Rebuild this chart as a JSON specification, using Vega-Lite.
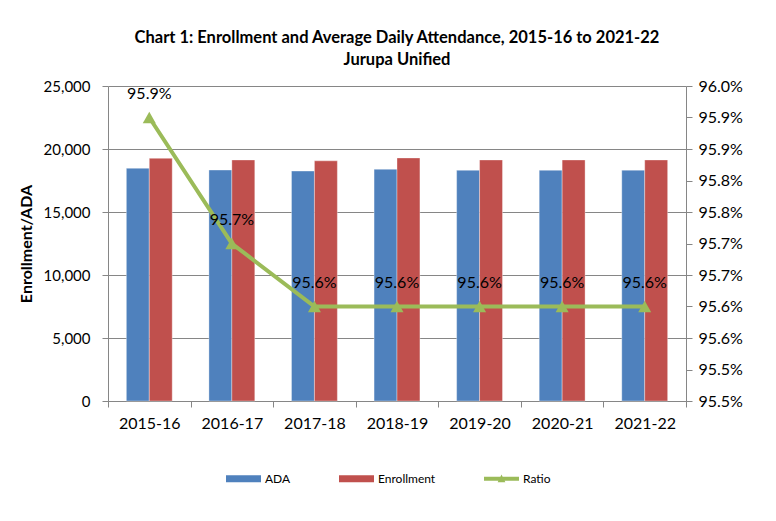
{
  "$schema": "https://vega.github.io/schema/vega-lite/v6.json",
  "width": 578,
  "height": 315,
  "autosize": {"type": "none"},
  "padding": {"left": 108, "top": 86, "right": 90, "bottom": 120},
  "background": "white",
  "title": {
    "text": "Chart 1: Enrollment and Average Daily Attendance, 2015-16 to 2021-22",
    "subtitle": "Jurupa Unified",
    "font": "Lato", "fontSize": 16.5, "fontWeight": "bold", "color": "#000000",
    "subtitleFont": "Lato", "subtitleFontSize": 16.5, "subtitleFontWeight": "bold", "subtitleColor": "#000000",
    "anchor": "middle", "offset": 10, "subtitlePadding": 5
  },
  "data": {
    "values": [
      {"Year": "2015-16", "ADA": 18470, "Enrollment": 19260, "Ratio": 95.95},
      {"Year": "2016-17", "ADA": 18330, "Enrollment": 19130, "Ratio": 95.75},
      {"Year": "2017-18", "ADA": 18250, "Enrollment": 19060, "Ratio": 95.65},
      {"Year": "2018-19", "ADA": 18390, "Enrollment": 19290, "Ratio": 95.65},
      {"Year": "2019-20", "ADA": 18310, "Enrollment": 19130, "Ratio": 95.65},
      {"Year": "2020-21", "ADA": 18310, "Enrollment": 19130, "Ratio": 95.65},
      {"Year": "2021-22", "ADA": 18320, "Enrollment": 19130, "Ratio": 95.65}
    ]
  },
  "encoding": {
    "x": {
      "field": "Year", "type": "ordinal", "sort": null,
      "scale": {"paddingInner": 0, "paddingOuter": 0},
      "axis": {
        "title": null, "labelAngle": 0, "labelFont": "Lato", "labelFontSize": 16, "labelColor": "#000000",
        "labelPadding": 8, "tickBand": "extent", "tickSize": 6, "tickColor": "#868686",
        "domainColor": "#868686", "domainWidth": 1, "grid": false
      }
    }
  },
  "layer": [
    {
      "transform": [{"fold": ["ADA", "Enrollment"], "as": ["Series", "Value"]}],
      "encoding": {
        "xOffset": {"field": "Series", "type": "nominal", "scale": {"paddingInner": 0, "paddingOuter": 0.8}},
        "y": {
          "field": "Value", "type": "quantitative",
          "scale": {"domain": [0, 25000], "nice": false},
          "axis": {
            "title": "Enrollment/ADA", "titleFont": "Lato", "titleFontSize": 16, "titleFontWeight": "bold",
            "titleColor": "#000000", "titlePadding": 9,
            "values": [0, 5000, 10000, 15000, 20000, 25000], "format": ",.0f",
            "labelFont": "Lato", "labelFontSize": 15, "labelColor": "#000000", "labelPadding": 12,
            "tickSize": 6, "tickColor": "#868686", "domainColor": "#868686",
            "grid": true, "gridColor": "#868686", "gridWidth": 1
          }
        },
        "color": {
          "field": "Series", "type": "nominal",
          "scale": {"domain": ["ADA", "Enrollment", "Ratio"], "range": ["#4F81BD", "#C0504D", "#9BBB59"]},
          "legend": {
            "title": null, "orient": "none", "direction": "horizontal",
            "legendX": 118, "legendY": 375,
            "labelFont": "Lato", "labelFontSize": 12, "labelColor": "#000000",
            "symbolSize": 1225, "columnPadding": 48, "labelOffset": 4,
            "symbolStrokeWidth": 0, "symbolOpacity": 1
          }
        }
      },
      "layer": [
        {"mark": {"type": "bar", "stroke": "#ffffff", "strokeOpacity": 0.35, "strokeWidth": 1}},
        {
          "mark": {"type": "point", "filled": true, "opacity": 0},
          "encoding": {
            "shape": {
              "field": "Series", "type": "nominal",
              "scale": {
                "domain": ["ADA", "Enrollment", "Ratio"],
                "range": ["M-1,-0.2H1V0.2H-1Z", "M-1,-0.2H1V0.2H-1Z", "M-1,-0.11H1V0.11H-1Z M-0.22,0.2L0,-0.24L0.22,0.2Z"]
              },
              "legend": {
                "title": null, "orient": "none", "direction": "horizontal",
                "legendX": 118, "legendY": 375,
                "labelFont": "Lato", "labelFontSize": 12, "labelColor": "#000000",
                "symbolSize": 1225, "columnPadding": 48, "labelOffset": 4,
                "symbolStrokeWidth": 0, "symbolOpacity": 1
              }
            }
          }
        }
      ]
    },
    {
      "encoding": {
        "y": {
          "field": "Ratio", "type": "quantitative",
          "scale": {"domain": [95.5, 96.0], "nice": false, "zero": false},
          "axis": {
            "orient": "right", "title": null,
            "values": [95.5, 95.55, 95.6, 95.65, 95.7, 95.75, 95.8, 95.85, 95.9, 95.95, 96.0],
            "labelExpr": "format(datum.value - 0.001, '.1f') + '%'",
            "labelFont": "Lato", "labelFontSize": 16, "labelColor": "#000000", "labelPadding": 6,
            "tickSize": 6, "tickColor": "#868686", "domainColor": "#868686", "grid": false
          }
        }
      },
      "layer": [
        {"mark": {"type": "line", "color": "#9BBB59", "strokeWidth": 4}},
        {"mark": {"type": "point", "shape": "triangle-up", "filled": true, "color": "#9BBB59", "size": 170, "opacity": 1}},
        {
          "transform": [{"calculate": "format(datum.Ratio - 0.001, '.1f') + '%'", "as": "Label"}],
          "mark": {"type": "text", "dy": -24, "font": "Lato", "fontSize": 16, "color": "#000000"},
          "encoding": {"text": {"field": "Label", "type": "nominal"}}
        }
      ]
    }
  ],
  "resolve": {"scale": {"y": "independent"}},
  "config": {"view": {"stroke": null}}
}
